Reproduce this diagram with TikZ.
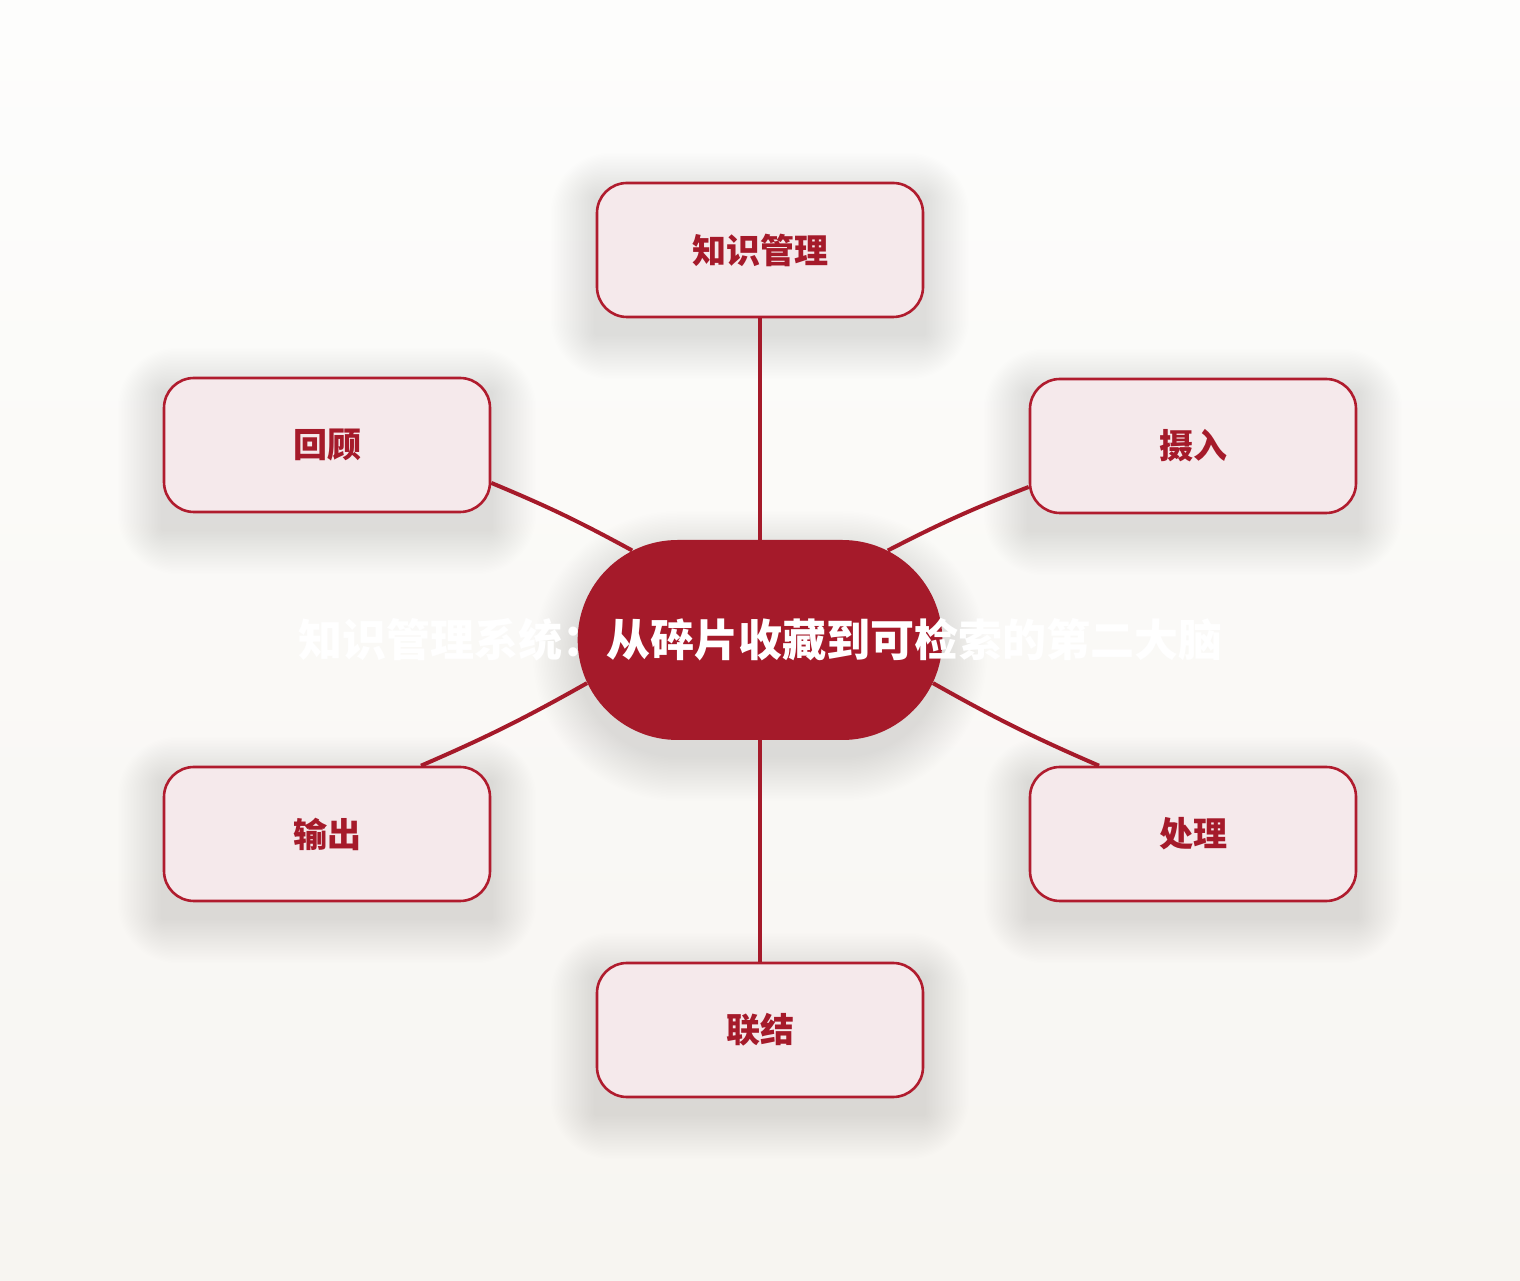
\documentclass[tikz,border=0pt]{standalone}
\usepackage{fontspec}
\setmainfont{Noto Sans CJK SC}
\usepackage{tikz}
\usetikzlibrary{shapes.misc,calc}
\pgfdeclarelayer{background}
\pgfsetlayers{background,main}
\definecolor{bgtop}{HTML}{FDFDFC}
\definecolor{bgbot}{HTML}{F7F5F1}
\definecolor{deepred}{HTML}{A51A2A}
\definecolor{edgered}{HTML}{B01C2E}
\definecolor{boxfill}{HTML}{F5E9EB}

\begin{document}
\begin{tikzpicture}[x=0.5pt,y=0.5pt,
  topic/.style={draw=edgered,line width=1.3pt,fill=boxfill,rounded corners=15pt,
    minimum width=163pt,minimum height=67pt,text=deepred,font=\bfseries\fontsize{17pt}{20pt}\selectfont},
  hub/.style={rounded rectangle,fill=deepred,minimum width=189pt,minimum height=100pt},
  link/.style={draw=deepred,line width=2pt},
  haze/.style={black,opacity=#1}]

% Text Node
\node[topic] (zhishi) at (760,1030) {知识管理};
% Text Node
\node[topic] (sheru) at (1193,834) {摄入};
% Text Node
\node[topic] (chuli) at (1193,446) {处理};
% Text Node
\node[topic] (lianjie) at (760,250) {联结};
% Text Node
\node[topic] (shuchu) at (327,446) {输出};
% Text Node
\node[topic] (huigu) at (327,835) {回顾};

%central node
\node[hub] (core) at (760,640) {};

%Straight Lines
\draw[link] (core.north) -- (zhishi.south);
\draw[link] (core.35) to[bend left=3] (sheru.-166);
\draw[link] (core.-14) to[bend right=3] (chuli.144);
\draw[link] (core.south) -- (lianjie.north);
\draw[link] (core.194) to[bend left=3] (shuchu.36);
\draw[link] (core.145) to[bend right=3] (huigu.-13);

% Text Node
\node[text=white,font=\bfseries\fontsize{22pt}{26pt}\selectfont] (title) at (core) {知识管理系统：从碎片收藏到可检索的第二大脑};

%background and soft shadows
\begin{pgfonlayer}{background}
\shade[top color=bgtop,bottom color=bgbot] (0,0) rectangle (1520,1280);
\foreach \n in {zhishi,sheru,chuli,lianjie,shuchu,huigu}
  \foreach \i [evaluate=\i as \rr using 15+0.75*\i] in {1,...,30}
    \fill[haze=0.0045,rounded corners=\rr pt] ($(\n.south west)+(-1.5*\i,-1.5*\i-16)$) rectangle ($(\n.north east)+(1.5*\i,1.5*\i-16)$);
\foreach \i [evaluate=\i as \rr using 50+0.75*\i] in {1,...,30}
  \fill[haze=0.0055,rounded corners=\rr pt] ($(core.center)+(-182-1.5*\i,-116-1.5*\i)$) rectangle ($(core.center)+(182+1.5*\i,84+1.5*\i)$);
\end{pgfonlayer}
\useasboundingbox (0,0) rectangle (1520,1280);

\end{tikzpicture}
\end{document}
